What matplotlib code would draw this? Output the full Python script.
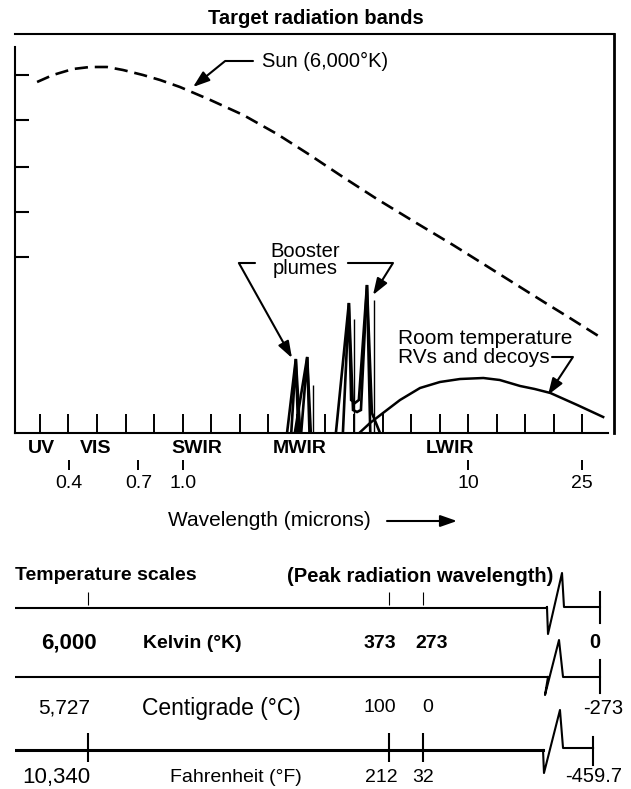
import matplotlib
matplotlib.use("Agg")
import matplotlib.pyplot as plt
import matplotlib.transforms as mtransforms
from matplotlib.ticker import FixedLocator, FixedFormatter, NullFormatter

plt.rcParams['font.family'] = ['Liberation Sans', 'DejaVu Sans']

# ---------------- data: target radiation bands (relative intensity) ----------------
sun_wl = [0.309, 0.351, 0.413, 0.473, 0.543, 0.618, 0.726, 0.833, 0.978, 1.25, 1.63,
          2.14, 2.79, 3.64, 4.79, 6.41, 8.85, 11.6, 14.8, 18.9, 22.7, 29.7]
sun_int = [351, 358, 364, 366, 366, 363, 358, 353, 346, 333, 318,
           299, 278, 256, 234, 212, 188, 167, 148, 129, 115, 94]

room_wl = [4.19, 4.53, 5.03, 5.77, 6.78, 7.96, 9.36, 11.3, 12.9, 15.2, 17.1, 19.4, 24.1, 29.7]
room_int = [1, 10, 20, 33, 45, 51, 54, 55, 53, 47, 44, 40, 28, 16]

plume_a_wl = [2.32, 2.49, 2.58]
plume_a_int = [0, 74, 0]
plume_a2_wl = [2.40, 2.49, 2.54]
plume_a2_int = [0, 74, 0]
plume_b_wl = [2.47, 2.73, 2.81]
plume_b_int = [0, 76, 0]
plume_b2_wl = [2.60, 2.73, 2.78]
plume_b2_int = [0, 76, 0]
plume_c_wl = [3.44, 3.82, 3.95, 4.08, 4.21, 4.42, 4.60, 4.91]
plume_c_int = [0, 130, 23, 21, 23, 148, 20, 0]
plume_c2_wl = [3.64, 3.82, 3.89, 4.01, 4.14, 4.42, 4.54]
plume_c2_int = [0, 130, 33, 30, 33, 148, 0]
plume_line_wl = [2.86, 3.98, 4.68]
plume_line_int = [48, 114, 133]

band_names = ['UV', 'VIS', 'SWIR', 'MWIR', 'LWIR']
band_center = [0.319, 0.497, 1.12, 2.57, 8.63]
wl_ticks = [0.4, 0.7, 1.0, 10, 25]
wl_tick_labels = ['0.4', '0.7', '1.0', '10', '25']
grid_ticks = [10 ** (k / 10) for k in range(-5, 15)]   # tenth-decade marks
y_ticks = [176, 221, 266, 313, 358]

# ---------------- data: temperature scales ----------------
kelvin = [6000, 373, 273, 0]
celsius = [5727, 100, 0, -273]
fahrenheit = [10340, 212, 32, -459.7]


def fmt(v):
    if isinstance(v, float) and not v.is_integer():
        return f"{v:.1f}"
    return f"{int(v):,}"


W, H = 631, 789
fig = plt.figure(figsize=(W / 100, H / 100), dpi=100)

# ================= top chart =================
ax = fig.add_axes([15 / W, 1 - 433 / H, (614 - 15) / W, (433 - 34) / H])
ax.set_xscale('log')
ax.set_xlim(0.2586, 32.41)
ax.set_ylim(0, 399)

ax.plot(sun_wl, sun_int, color='black', lw=1.9, dashes=(5, 2.6))
ax.plot(room_wl, room_int, color='black', lw=1.8)
for xs, ys in [(plume_a_wl, plume_a_int), (plume_a2_wl, plume_a2_int),
               (plume_b_wl, plume_b_int), (plume_b2_wl, plume_b2_int),
               (plume_c_wl, plume_c_int), (plume_c2_wl, plume_c2_int)]:
    ax.plot(xs, ys, color='black', lw=1.9, solid_joinstyle='miter')
ax.vlines(plume_line_wl, 0, plume_line_int, color='black', lw=1.0)

for s in ax.spines.values():
    s.set_linewidth(1.5)
ax.spines['right'].set_linewidth(2.0)
ax.spines['left'].set_bounds(0, 386)
ax.spines['bottom'].set_bounds(0.2586, 30.9)

ax.xaxis.set_major_locator(FixedLocator(band_center))
ax.xaxis.set_major_formatter(FixedFormatter(band_names))
ax.xaxis.set_minor_locator(FixedLocator(grid_ticks))
ax.xaxis.set_minor_formatter(NullFormatter())
ax.tick_params(axis='x', which='major', length=0, pad=5, labelsize=14)
ax.tick_params(axis='x', which='minor', direction='in', length=13.7, width=1.4)
for lab in ax.get_xticklabels():
    lab.set_fontweight('bold')
ax.set_yticks(y_ticks)
ax.tick_params(axis='y', direction='in', length=10, width=1.5, labelleft=False)

sec = ax.secondary_xaxis(-0.0677)
sec.set_xticks(wl_ticks, wl_tick_labels)
sec.xaxis.set_minor_locator(FixedLocator([]))
sec.tick_params(axis='x', which='major', direction='out', length=7.2, width=1.4,
                pad=3.5, labelsize=14)
sec.spines['bottom'].set_visible(False)

arrow_style = '-|>,head_length=1.0,head_width=0.35'


def leader(tip, start, angle_b):
    ax.annotate('', xy=tip, xytext=start,
                arrowprops=dict(arrowstyle=arrow_style, color='black', lw=1.5,
                                shrinkA=0, shrinkB=0,
                                connectionstyle=f'angle,angleA=0,angleB={angle_b},rad=0'))


ax.text(1.896, 372, 'Sun (6,000°K)', fontsize=14.5, ha='left', va='center')
leader((1.087, 346), (1.763, 372), 39)

ax.text(2.69, 173, 'Booster\nplumes', fontsize=14.5, ha='center', va='center',
        linespacing=0.85)
leader((2.414, 75), (1.792, 170), 119.2)
leader((4.64, 138), (3.79, 170), 58)

ax.text(5.67, 85, 'Room temperature\nRVs and decoys', fontsize=15, ha='left',
        va='center', linespacing=0.95)
leader((19.03, 38), (19.66, 76), 56.7)

fig.text(316 / W, 1 - 18 / H, 'Target radiation bands', ha='center', va='center',
         fontsize=14.5, fontweight='bold')
fig.text(269 / W, 1 - 521 / H, 'Wavelength (microns)', ha='center', va='center',
         fontsize=15)
fig.add_artist(matplotlib.patches.FancyArrowPatch(
    (387 / W, 1 - 521 / H), (457 / W, 1 - 521 / H), transform=fig.transFigure,
    arrowstyle=arrow_style, mutation_scale=10, color='black', lw=1.5,
    shrinkA=0, shrinkB=0))

# ================= temperature scales =================
tax = fig.add_axes([15 / W, 0, (614 - 15) / W, 229 / H])
tax.set_xscale('log')
tax.set_xlim(11836, 46.52)
tax.set_ylim(229, 0)
tax.axis('off')
bl = mtransforms.blended_transform_factory(tax.transAxes, tax.transData)


def shifted(dx):
    return mtransforms.offset_copy(tax.transData, fig=fig, x=dx, y=0, units='dots')


tax.text(0, 16, 'Temperature scales', transform=bl, fontsize=14, fontweight='bold',
         ha='left', va='center')
tax.text(0.898, 16, '(Peak radiation wavelength)', transform=bl, fontsize=14.5,
         fontweight='bold', ha='right', va='center')

rows = [
    # values, line y, label y, name, name x, weight, line lw, end x, zigzag, end tick, column shifts
    (kelvin, 48, 83, 'Kelvin (°K)', 0.2137, 'bold', 1.5, 0.9766,
     [(0.8881, 47), (0.8898, 74), (0.9132, 13), (0.9165, 47), (0.9766, 47)], (32, 63),
     (8, -9, 9)),
    (celsius, 117, 148, 'Centigrade (°C)', 0.2120, 'normal', 1.5, 0.9766,
     [(0.8898, 117), (0.8848, 135), (0.9082, 80), (0.9149, 117), (0.9766, 117)], (100, 133),
     (2, -9, 5)),
    (fahrenheit, 190, 217, 'Fahrenheit (°F)', 0.2588, 'normal', 2.2, 0.965,
     [(0.8815, 190), (0.8831, 213), (0.9098, 150), (0.9149, 188), (0.965, 188)], (177, 205),
     (2, -8, 0)),
]
name_sizes = [14, 16.5, 14]
first_sizes = [16, 15, 16]
end_label_x = [0.9683, 0.9816, 0.9666]
for i, (vals, ly, ty, name, nx, wt, lw, ex, zz, etick, sh) in enumerate(rows):
    tax.plot([0, zz[0][0]], [ly, ly], transform=bl, color='black', lw=lw)
    tax.plot([p[0] for p in zz], [p[1] for p in zz], transform=bl, color='black', lw=1.5)
    tax.plot([ex, ex], list(etick), transform=bl, color='black', lw=1.5)
    tax.text(nx, ty, name, transform=bl, fontsize=name_sizes[i], fontweight=wt,
             ha='left', va='center')
    tax.text(kelvin[0], ty, fmt(vals[0]), transform=shifted(sh[0]), fontsize=first_sizes[i],
             fontweight=wt, ha='right', va='center')
    for kv, v, dx in zip(kelvin[1:3], vals[1:3], sh[1:3]):
        tax.text(kv, ty, fmt(v), transform=shifted(dx), fontsize=14, fontweight=wt,
                 ha='center', va='center')
    tax.text(end_label_x[i], ty, fmt(vals[3]), transform=bl, fontsize=14.5, fontweight=wt,
             ha='center', va='center')

# small marks above the Kelvin line and crossing marks on the Fahrenheit line
tax.vlines(kelvin[:3], 32, 45, color='black', lw=0.8)
tax.vlines(kelvin[:3], 173, 202, color='black', lw=1.5)

fig.savefig('out.png', dpi=100)
